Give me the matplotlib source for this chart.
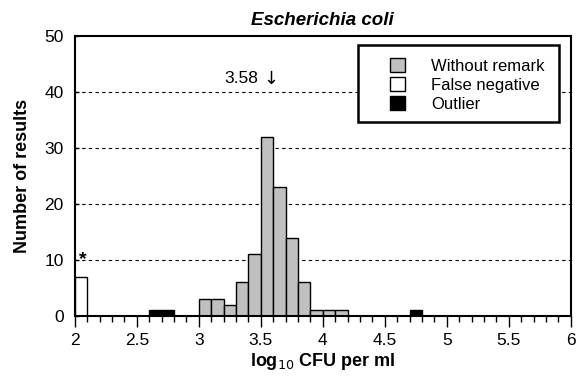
import matplotlib.pyplot as plt
import numpy as np
from matplotlib.patches import Patch, Rectangle
from matplotlib.ticker import MultipleLocator

plt.rcParams['font.family'] = ['Liberation Sans', 'DejaVu Sans']

# bins are 0.1 log10 wide, left edges below
ok_left = [3.0, 3.1, 3.2, 3.3, 3.4, 3.5, 3.6, 3.7, 3.8, 3.9, 4.0, 4.1]
ok_count = [3, 3, 2, 6, 11, 32, 23, 14, 6, 1, 1, 1]
fn_left = [2.0]
fn_count = [7]
out_left = [2.6, 2.7, 4.7]
out_count = [1, 1, 1]
median = 3.58

fig = plt.figure(figsize=(5.76, 3.79), dpi=100)
ax = fig.add_axes([0.130, 0.166, 0.861, 0.739])

for y in [10, 20, 30, 40]:
    ax.axhline(y, color='black', lw=0.8, ls=(0, (3, 3)), zorder=0)

ax.bar(ok_left, ok_count, width=0.1, align='edge', color='#c0c0c0', edgecolor='black', lw=1, zorder=2)
ax.bar(fn_left, fn_count, width=0.1, align='edge', color='white', edgecolor='black', lw=1, zorder=2)
ax.bar(out_left, out_count, width=0.1, align='edge', color='black', edgecolor='black', lw=1, zorder=2)

ax.text(2.065, 10, '*', ha='center', va='center', fontsize=14, fontweight='bold')
# median label: number then arrow pointing at the median
ax.text(median - 0.1, 42.5, '%.2f' % median, ha='right', va='center', fontsize=12.5)
ax.text(median, 42.3, '\u2193', ha='center', va='center', fontsize=13, family='DejaVu Sans')

ax.set_xlim(2, 6)
ax.set_ylim(0, 50)
ax.set_xticks(np.arange(2, 6.01, 0.5))
ax.set_xticklabels(['2', '2.5', '3', '3.5', '4', '4.5', '5', '5.5', '6'])
ax.xaxis.set_minor_locator(MultipleLocator(0.1))
ax.set_yticks(range(0, 51, 10))
ax.tick_params(axis='x', which='major', direction='out', length=8, width=1, labelsize=12.5, pad=4)
ax.tick_params(axis='x', which='minor', direction='out', length=4, width=1)
ax.tick_params(axis='y', direction='in', length=3, width=1, labelsize=12.5, pad=8)
for s in ax.spines.values():
    s.set_linewidth(1.5)

ax.set_title('Escherichia coli', fontsize=13.5, fontweight='bold', style='italic', pad=8)
ax.set_ylabel('Number of results', fontsize=13, fontweight='bold', labelpad=10)
ax.set_xlabel('log$_{10}$ CFU per ml', fontsize=13, fontweight='bold', labelpad=2)

# legend frame drawn separately, Excel-like wide left padding
ax.add_patch(Rectangle((0.5706, 0.693), 0.4052, 0.275, transform=ax.transAxes,
                       facecolor='white', edgecolor='black', lw=1.8, zorder=5))
handles = [Patch(facecolor='#c0c0c0', edgecolor='black', label='Without remark'),
           Patch(facecolor='white', edgecolor='black', label='False negative'),
           Patch(facecolor='black', edgecolor='black', label='Outlier')]
leg = ax.legend(handles=handles, loc='upper left', bbox_to_anchor=(0.635, 0.92), fontsize=12,
                frameon=False, handlelength=0.9, handleheight=0.9,
                handletextpad=1.6, labelspacing=0.2, borderpad=0, borderaxespad=0)
leg.set_zorder(6)

fig.savefig('out.png', dpi=100)
